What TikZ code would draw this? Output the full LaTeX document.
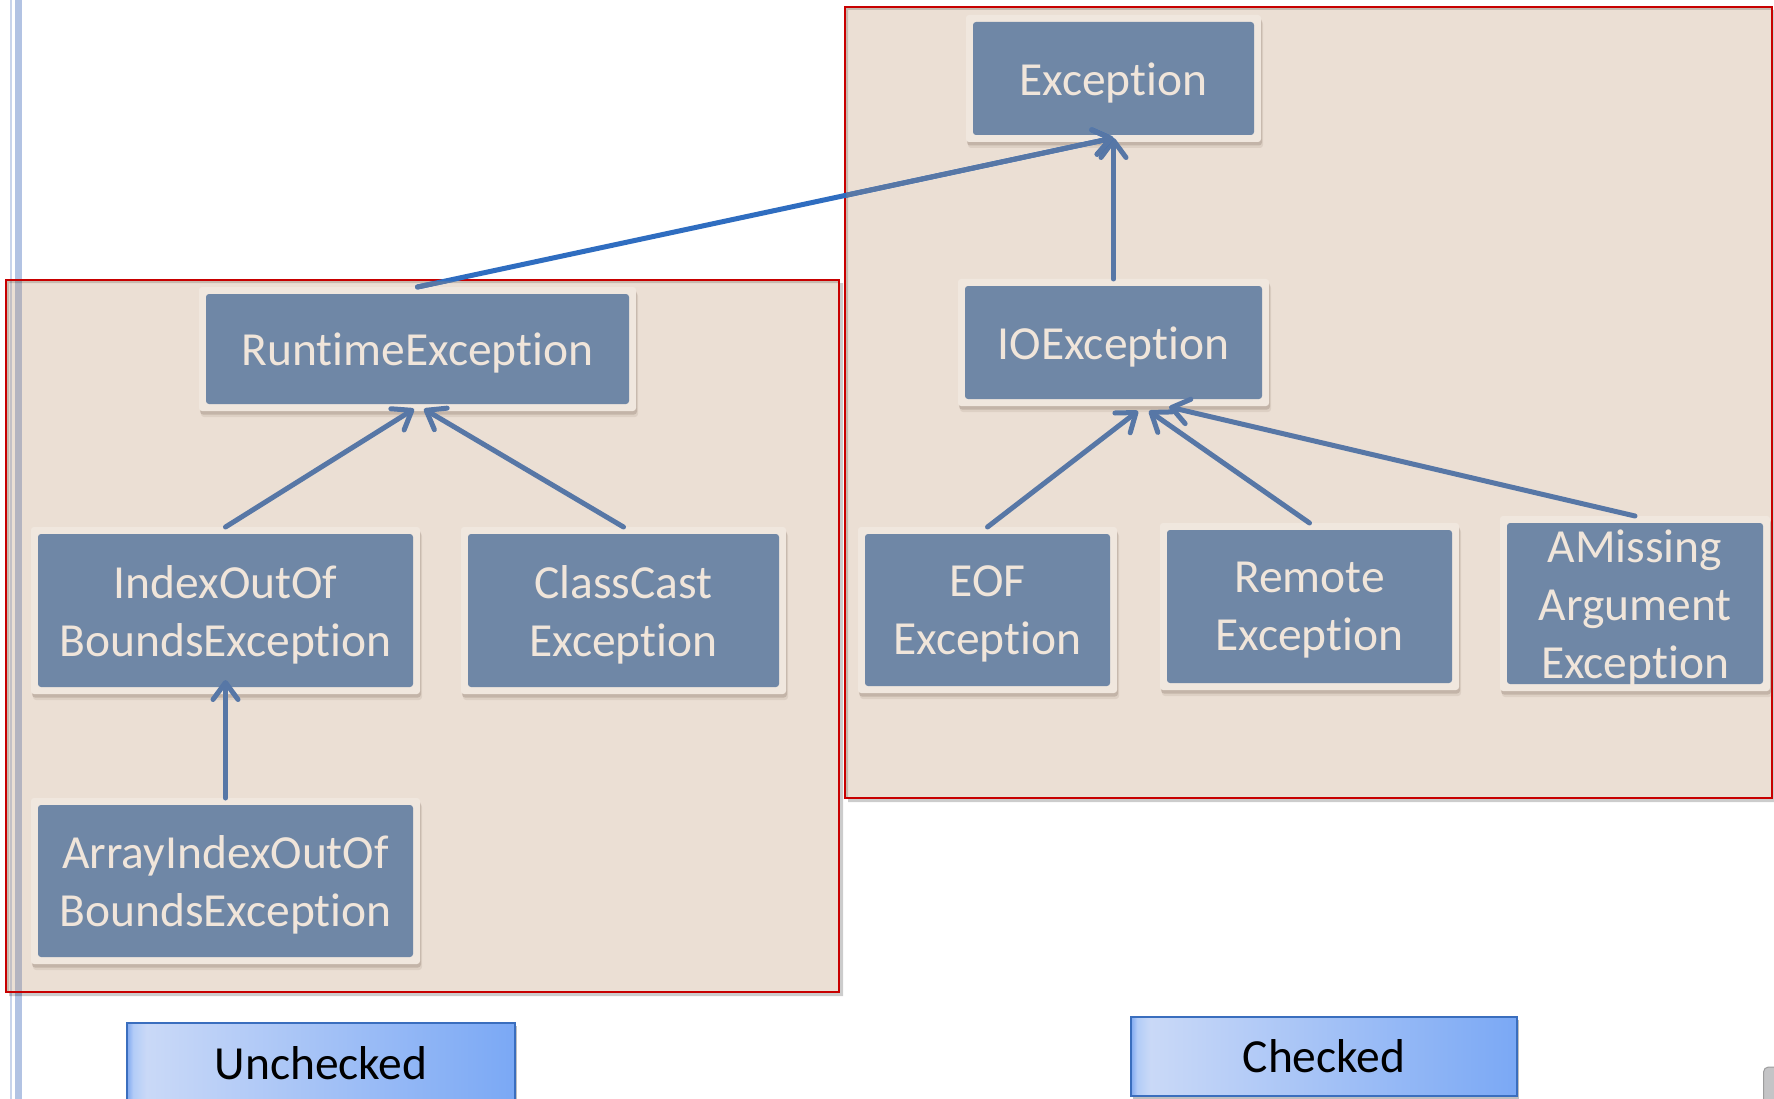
\documentclass[tikz,border=0pt]{standalone}
\usepackage{fontspec}
\setmainfont{Carlito}[Ligatures={NoCommon,NoContextual}]
\usetikzlibrary{arrows.meta,shadows}

\definecolor{boxtint}{RGB}{186,144,106}
\definecolor{framered}{RGB}{200,0,0}
\definecolor{nodefill}{RGB}{111,135,166}
\definecolor{nodeedge}{RGB}{240,231,222}
\definecolor{nodetext}{RGB}{240,229,218}
\definecolor{linkc}{RGB}{87,119,166}
\definecolor{crossc}{RGB}{47,109,192}
\definecolor{shadowc}{RGB}{120,100,85}
\definecolor{barlight}{RGB}{200,212,235}
\definecolor{bardark}{RGB}{178,195,227}
\definecolor{tagline}{RGB}{58,110,190}
\definecolor{cornergray}{RGB}{196,196,198}

% horizontal gradient of the two legend boxes (path spans 25bp..75bp)
\pgfdeclarehorizontalshading{tagshade}{100bp}{%
  rgb(0bp)=(.50,.66,.94);
  rgb(25bp)=(.50,.66,.94);
  rgb(25.8bp)=(.70,.80,.97);
  rgb(27.5bp)=(.79,.85,.97);
  rgb(75bp)=(.48,.66,.96);
  rgb(100bp)=(.48,.66,.96)}

\tikzset{
  cls/.style={rectangle, rounded corners=3pt, fill=nodeedge, inner sep=0pt, outer sep=0pt,
    general shadow={shadow xshift=2pt, shadow yshift=-6pt, opacity=.12, fill=shadowc},
    general shadow={shadow xshift=1pt, shadow yshift=-3.5pt, opacity=.25, fill=shadowc},
    path picture={\fill[nodefill]
      ([shift={(7pt,-7pt)}]path picture bounding box.north west) rectangle
      ([shift={(-7pt,7pt)}]path picture bounding box.south east);}},
  clstext/.style={text=nodetext, align=center, inner sep=0pt, yshift=-4pt,
    font=\fontsize{47.5pt}{58pt}\selectfont},
  link/.style={draw=linkc, line width=5pt, line cap=round,
    -{Straight Barb[length=17pt, width=25pt, round]}},
  crosslink/.style={link, draw=crossc},
  frame/.style={draw=framered, line width=2.6pt},
  tint/.style={fill=boxtint, fill opacity=.288},
  rimshadow/.style={fill=black, opacity=.2, even odd rule},
  tag/.style={rectangle, draw=tagline, line width=2.5pt, shading=tagshade,
    inner sep=0pt, text=black, font=\fontsize{47.5pt}{58pt}\selectfont,
    general shadow={shadow xshift=2pt, shadow yshift=-3pt, opacity=.25, fill=black}},
}

\begin{document}
\begin{tikzpicture}[x=1pt, y=-1pt]
\useasboundingbox (0,0) rectangle (1774,1099);
\fill[white] (0,0) rectangle (1774,1099);

% double rule along the left margin
\fill[barlight] (10,0) rectangle (12,1099);
\fill[bardark] (14.5,0) rectangle (22,1099);

% group frames: shadow, translucent tint, red outline
\fill[rimshadow] (9,283) rectangle (843,996) (6,280) rectangle (839,992);
\fill[rimshadow] (848,10) rectangle (1776,802) (845,7) rectangle (1772,798);
\fill[tint] (6,280) rectangle (839,992);
\fill[tint] (845,7) rectangle (1772,798);
\draw[frame] (6,280) rectangle (839,992);
\draw[frame] (845,7) rectangle (1772,798);

% class boxes
\node[cls, minimum width=295pt, minimum height=127pt,
  label={[clstext, name=ex-t]center:Exception}] (ex) at (1113.5,78.5) {};
\node[cls, minimum width=311pt, minimum height=127pt,
  label={[clstext, name=io-t]center:IOException}] (io) at (1113.5,342.5) {};
\node[cls, minimum width=437pt, minimum height=124pt,
  label={[clstext, name=rt-t]center:RuntimeException}] (rt) at (417.5,349) {};
\node[cls, minimum width=389pt, minimum height=167pt,
  label={[clstext, name=idx-t]center:IndexOutOf\\BoundsException}] (idx) at (225.5,610.5) {};
\node[cls, minimum width=325pt, minimum height=167pt,
  label={[clstext, name=cc-t]center:ClassCast\\Exception}] (cc) at (623.5,610.5) {};
\node[cls, minimum width=389pt, minimum height=166pt,
  label={[clstext, name=arr-t]center:ArrayIndexOutOf\\BoundsException}] (arr) at (225.5,881) {};
\node[cls, minimum width=259pt, minimum height=166pt,
  label={[clstext, name=eof-t]center:EOF\\Exception}] (eof) at (987.5,610) {};
\node[cls, minimum width=299pt, minimum height=167pt,
  label={[clstext, name=rem-t]center:Remote\\Exception}] (rem) at (1309.5,606.5) {};
\node[cls, minimum width=270pt, minimum height=175pt,
  label={[clstext, name=ams-t]center:AMissing\\Argument\\Exception}] (ams) at (1635,603.5) {};

% inheritance links
\draw[link] (io.north) -- ([yshift=4pt]ex.south);
\draw[link] (eof.north) -- ([xshift=24.5pt,yshift=-5pt]io.south);
\draw[link] (rem.north) -- ([xshift=35.5pt,yshift=-5pt]io.south);
\draw[link] (ams.north) -- ([xshift=55.5pt,yshift=-1pt]io.south);
\draw[link] (idx.north) -- ([xshift=-3.5pt,yshift=2pt]rt.south);
\draw[link] (cc.north) -- ([xshift=6.5pt,yshift=2pt]rt.south);
\draw[link] (arr.north) -- ([yshift=14pt]idx.south);

% link crossing between the two groups; tinted where it lies inside a frame
\draw[crosslink] (rt.north) -- ([yshift=4pt]ex.south);
\begin{scope}
  \clip (7.3,281.3) rectangle (837.7,990.7) (846.3,8.3) rectangle (1770.7,796.7);
  \draw[link] (rt.north) -- ([yshift=4pt]ex.south);
\end{scope}

% legend
\node[tag, minimum width=388pt, minimum height=80pt] (unc) at (321,1063) {Unchecked};
\node[tag, minimum width=386pt, minimum height=79pt] (chk) at (1324,1056.5) {Checked};

% control peeking in at the lower right corner
\draw[cornergray!80!black, fill=cornergray, rounded corners=5pt, line width=1pt]
  (1763.5,1067) rectangle (1795,1120);
\end{tikzpicture}
\end{document}
